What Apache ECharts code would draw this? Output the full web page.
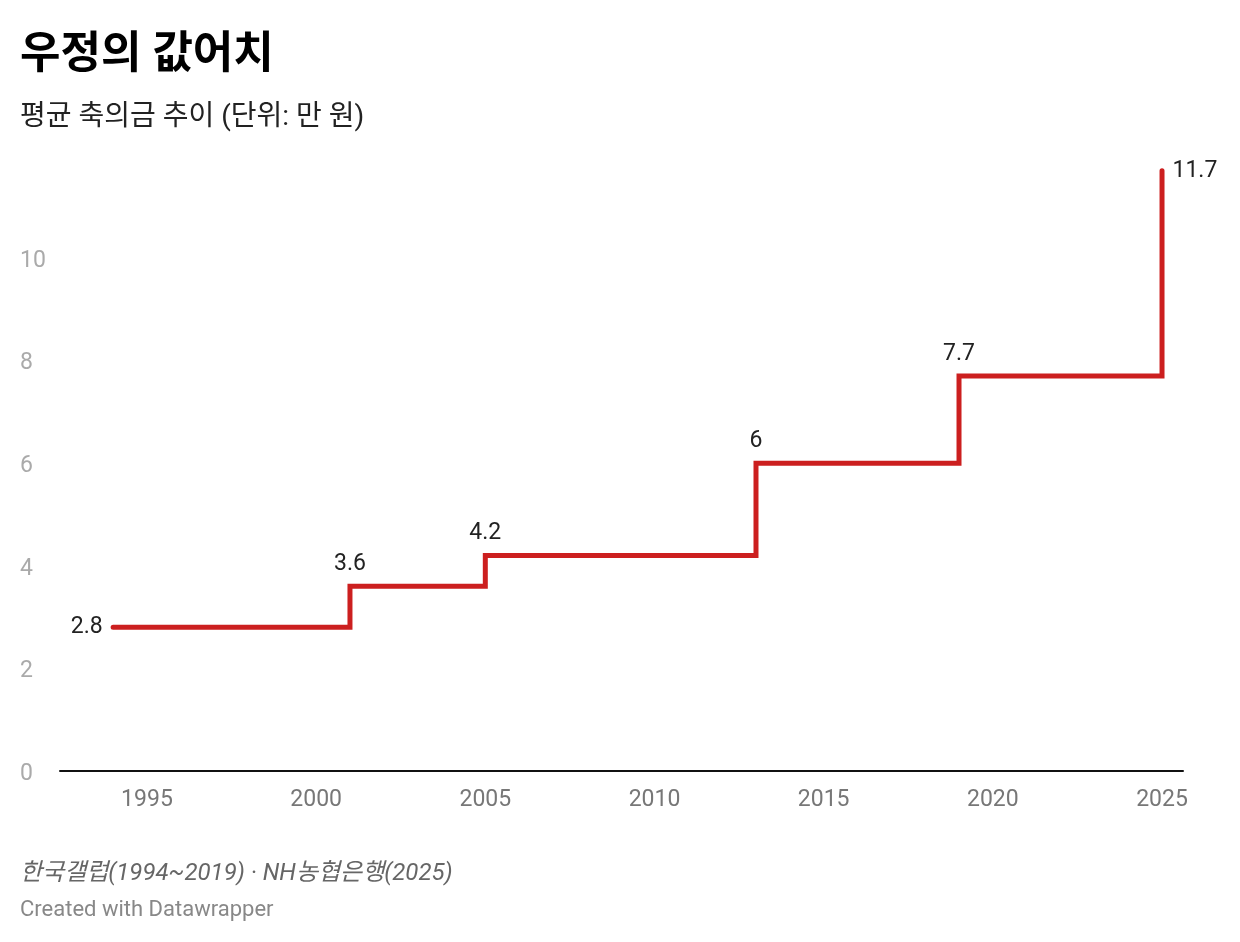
<!DOCTYPE html>
<html><head><meta charset="utf-8">
<script src="https://cdn.jsdelivr.net/npm/echarts@6/dist/echarts.min.js"></script>
<style>html,body{margin:0;padding:0;background:#fff}#c{width:1240px;height:942px}</style>
</head><body><div id="c"></div>
<script>
const years = [1994, 2001, 2005, 2013, 2019, 2025];
const values = [2.8, 3.6, 4.2, 6, 7.7, 11.7];
const xTicks = [1995, 2000, 2005, 2010, 2015, 2020, 2025];
const yTicks = [0, 2, 4, 6, 8, 10];
const titleText = '우정의 값어치';
const subtitleText = '평균 축의금 추이 (단위: 만 원)';
const sourceText = '한국갤럽(1994~2019) · NH농협은행(2025)';
const creditText = 'Created with Datawrapper';

const FONT = "Roboto, 'Noto Sans CJK KR', sans-serif";
const data = years.map((y, i) => {
  let pos = 'top';
  if (i === 0) pos = 'left';
  if (i === years.length - 1) pos = 'right';
  return { value: [y, values[i]], label: { position: pos } };
});
const chart = echarts.init(document.getElementById('c'));
chart.setOption({
  animation: false,
  textStyle: { fontFamily: FONT },
  title: [
    { text: titleText, left: 20, top: 35, padding: 0, textStyle: { fontFamily: FONT, fontSize: 44, fontWeight: 'bold', color: '#000' } },
    { text: subtitleText, left: 20, top: 104, padding: 0, textStyle: { fontFamily: FONT, fontSize: 28, fontWeight: 'normal', color: '#222' } },
    { text: sourceText, left: 20, top: 862, padding: 0, textStyle: { fontFamily: FONT, fontSize: 24, fontStyle: 'italic', fontWeight: 'normal', color: '#666' } },
    { text: creditText, left: 20, top: 899, padding: 0, textStyle: { fontFamily: FONT, fontSize: 22, fontWeight: 'normal', color: '#888' } }
  ],
  grid: { left: 60, right: 57, top: 155.4, bottom: 171, containLabel: false },
  xAxis: {
    type: 'value', min: 1992.43, max: 2025.62,
    axisLine: { show: true, lineStyle: { color: '#111', width: 2 } },
    axisTick: { show: false },
    splitLine: { show: false },
    axisLabel: { customValues: xTicks, color: '#777', fontSize: 23, margin: 18, fontFamily: FONT, formatter: v => String(v) }
  },
  yAxis: {
    type: 'value', min: 0, max: 12, interval: 2,
    axisLine: { show: false }, axisTick: { show: false }, splitLine: { show: false },
    axisLabel: { customValues: yTicks, color: '#aaa', fontSize: 23, margin: 40, align: 'left', verticalAlign: 'top', lineHeight: 6, fontFamily: FONT }
  },
  series: [{
    type: 'line', step: 'end', data: data,
    symbol: 'circle', symbolSize: 1, showSymbol: true,
    itemStyle: { color: '#cc1f1f' },
    lineStyle: { color: '#cc1f1f', width: 5, cap: 'round', join: 'miter' },
    label: { show: true, color: '#222', fontSize: 23, fontFamily: FONT, distance: 10, formatter: p => String(p.value[1]) },
    labelLayout: { hideOverlap: false }
  }]
});
</script></body></html>
